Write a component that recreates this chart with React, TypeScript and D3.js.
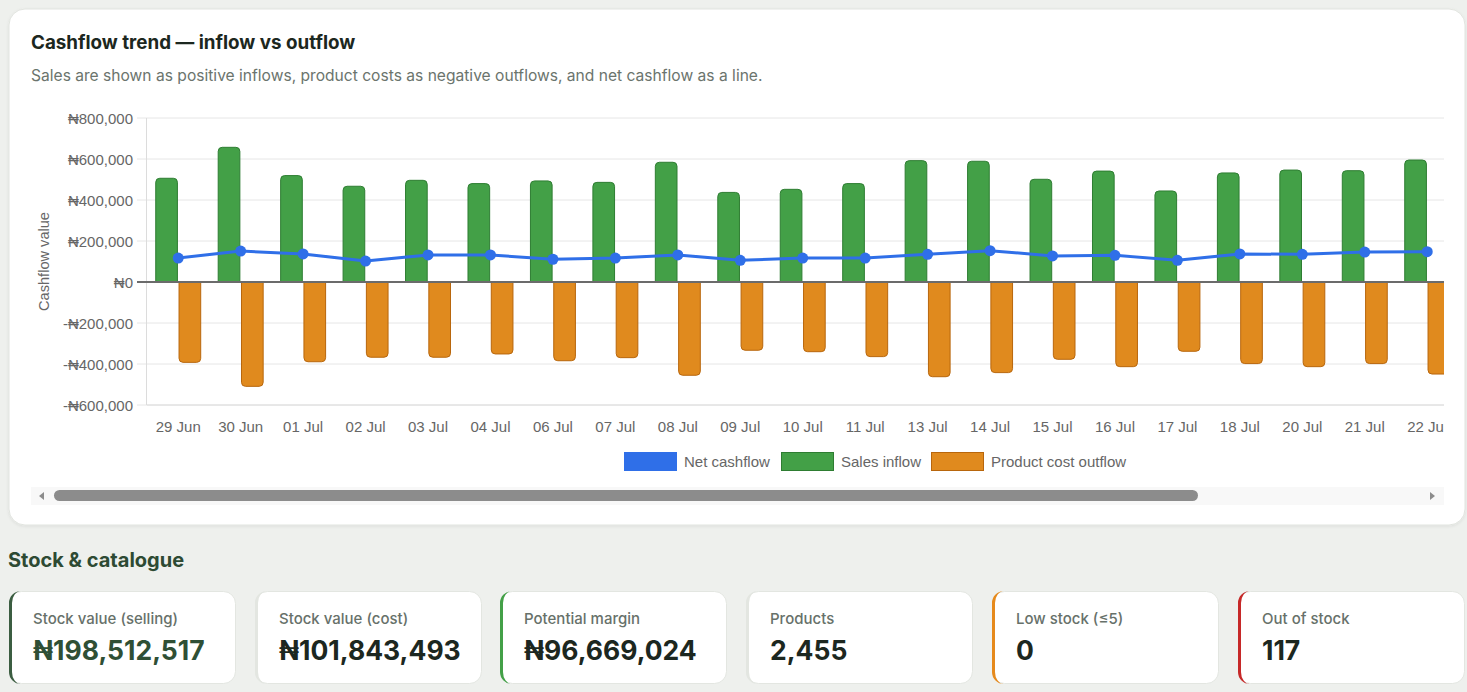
import * as d3 from "d3";
import React from "react";

const dates = ["29 Jun", "30 Jun", "01 Jul", "02 Jul", "03 Jul", "04 Jul", "06 Jul", "07 Jul", "08 Jul", "09 Jul", "10 Jul", "11 Jul", "13 Jul", "14 Jul", "15 Jul", "16 Jul", "17 Jul", "18 Jul", "20 Jul", "21 Jul", "22 Jul"];
const salesInflow = [506000, 657000, 519000, 467000, 496000, 480000, 493000, 486000, 584000, 437000, 452000, 480000, 592000, 589000, 501000, 541000, 444000, 532000, 546000, 543000, 595000];
const costOutflow = [-392000, -509000, -389000, -367000, -367000, -351000, -384000, -369000, -455000, -333000, -340000, -364000, -462000, -442000, -377000, -413000, -338000, -398000, -413000, -398000, -449000];
const netCashflow = [117000, 151000, 137000, 102000, 132000, 132000, 111000, 117000, 132000, 106000, 117000, 117000, 135000, 153000, 127000, 130000, 106000, 137000, 135000, 146000, 148000];
const yTicks = [800000, 600000, 400000, 200000, 0, -200000, -400000, -600000];

const legendItems = [
  { label: "Net cashflow", fill: "#2f6fe8", stroke: "#2f6fe8" },
  { label: "Sales inflow", fill: "#43a047", stroke: "#2e7d32" },
  { label: "Product cost outflow", fill: "#e08a1e", stroke: "#b8660c" },
];

const kpiLabels = ["Stock value (selling)", "Stock value (cost)", "Potential margin", "Products", "Low stock (≤5)", "Out of stock"];
const kpiValues = ["₦198,512,517", "₦101,843,493", "₦96,669,024", "2,455", "0", "117"];
const kpiAccents = ["#3b5d41", "#e3e6e1", "#43a047", "#e3e6e1", "#e68a1c", "#c62828"];

const W = 1467;
const H = 692;
const plotLeft = 147;
const plotRight = 1444;
const plotTop = 118;
const plotBottom = 405;
const step = 62.45;

const naira = d3.formatLocale({ decimal: ".", thousands: ",", grouping: [3], currency: ["₦", ""], minus: "-" }).format("$,");

const chartFont = "'Liberation Sans', Arial, Helvetica, sans-serif";
const uiFont = "Inter, 'Noto Sans', sans-serif";

// bar with rounded outer end only
function barPath(x: number, w: number, y0: number, y1: number, r: number) {
  const up = y1 < y0;
  const top = up ? y1 : y0;
  const bot = up ? y0 : y1;
  const rr = Math.min(r, Math.abs(bot - top) / 2, w / 2);
  if (up) {
    return `M${x},${bot}V${top + rr}Q${x},${top} ${x + rr},${top}H${x + w - rr}Q${x + w},${top} ${x + w},${top + rr}V${bot}Z`;
  }
  return `M${x},${top}V${bot - rr}Q${x},${bot} ${x + rr},${bot}H${x + w - rr}Q${x + w},${bot} ${x + w},${bot - rr}V${top}Z`;
}

export default function App() {
  const x = d3.scaleBand<string>().domain(dates).range([plotLeft, plotLeft + dates.length * step]);
  const xInner = d3
    .scaleBand<string>()
    .domain(["sales", "cost"])
    .range([x.bandwidth() * 0.14, x.bandwidth() * 0.86])
    .paddingInner(0.07);
  const y = d3.scaleLinear().domain([-600000, 800000]).range([plotBottom, plotTop]);

  const line = d3
    .line<number>()
    .x((_, i) => x(dates[i])! + x.bandwidth() / 2)
    .y((d) => y(d));

  const legendX = [624, 781, 931];
  const cardX = [9, 255, 500, 746, 992, 1238];
  const cardW = 227;

  return (
    <svg width={W} height={H} style={{ position: "absolute", left: 0, top: 0, display: "block" }}>
      <defs>
        <clipPath id="plotClip">
          <rect x={plotLeft - 12} y={plotTop - 12} width={plotRight - plotLeft + 12} height={plotBottom - plotTop + 40} />
        </clipPath>
        <clipPath id="labelClip">
          <rect x={0} y={plotBottom} width={plotRight} height={40} />
        </clipPath>
        <clipPath id="accentClip">
          <rect x={0} y={0} width={16} height={93} />
        </clipPath>
        <filter id="shadow" x="-5%" y="-5%" width="110%" height="115%">
          <feDropShadow dx="0" dy="1" stdDeviation="1.5" floodColor="#000" floodOpacity="0.08" />
        </filter>
      </defs>
      <rect width={W} height={H} fill="#eef0ed" />

      {/* chart card */}
      <rect x={9} y={9} width={1456} height={516} rx={16} fill="#fff" stroke="#e1e4df" filter="url(#shadow)" />
      <text x={31} y={49} fontFamily={uiFont} fontSize={18.8} fontWeight={700} fill="#1c2720">
        Cashflow trend — inflow vs outflow
      </text>
      <text x={31} y={81} fontFamily={uiFont} fontSize={15.6} fill="#6b746d">
        Sales are shown as positive inflows, product costs as negative outflows, and net cashflow as a line.
      </text>

      {/* y grid + labels */}
      <g fontFamily={chartFont} fontSize={15} fill="#666">
        {yTicks.map((t) => (
          <g key={t}>
            {t !== 0 && <line x1={plotLeft - 10} x2={plotRight} y1={y(t)} y2={y(t)} stroke="#e6e6e6" />}
            <text x={133} y={y(t)} textAnchor="end" dominantBaseline="central">
              {naira(t)}
            </text>
          </g>
        ))}
        <text transform={`translate(44,${(plotTop + plotBottom) / 2}) rotate(-90)`} textAnchor="middle" dominantBaseline="central" fontSize={14.6}>
          Cashflow value
        </text>
      </g>
      <line x1={plotLeft - 0.5} x2={plotLeft - 0.5} y1={plotTop} y2={plotBottom} stroke="#dcdcdc" />

      <g clipPath="url(#plotClip)">
        {dates.map((d, i) => (
          <g key={d}>
            <path
              d={barPath(x(d)! + xInner("sales")!, xInner.bandwidth(), y(0), y(salesInflow[i]), 4)}
              fill="#43a047"
              stroke="#2e7d32"
              strokeWidth={1}
            />
            <path
              d={barPath(x(d)! + xInner("cost")!, xInner.bandwidth(), y(0), y(costOutflow[i]), 4)}
              fill="#e08a1e"
              stroke="#b8660c"
              strokeWidth={1}
            />
          </g>
        ))}
        <line x1={plotLeft - 10} x2={plotRight} y1={y(0)} y2={y(0)} stroke="#6b6b6b" strokeWidth={2} />
        <line x1={plotLeft} x2={plotRight} y1={plotBottom} y2={plotBottom} stroke="#dcdcdc" />
        <path d={line(netCashflow)!} fill="none" stroke="#2f6fe8" strokeWidth={3} strokeLinejoin="round" />
        {netCashflow.map((v, i) => (
          <circle key={i} cx={x(dates[i])! + x.bandwidth() / 2} cy={y(v)} r={5.5} fill="#2f6fe8" />
        ))}
      </g>

      {/* x labels */}
      <g fontFamily={chartFont} fontSize={15} fill="#666" clipPath="url(#labelClip)">
        {dates.map((d) => (
          <text key={d} x={x(d)! + x.bandwidth() / 2} y={426} textAnchor="middle" dominantBaseline="central">
            {d}
          </text>
        ))}
      </g>

      {/* legend */}
      <g fontFamily={chartFont} fontSize={15} fill="#666">
        {legendItems.map((it, i) => (
          <g key={it.label} transform={`translate(${legendX[i]},452)`}>
            <rect x={0.5} y={0.5} width={52} height={18} fill={it.fill} stroke={it.stroke} />
            <text x={60} y={9.5} dominantBaseline="central">
              {it.label}
            </text>
          </g>
        ))}
      </g>

      {/* scrollbar */}
      <rect x={31} y={487} width={1413} height={18} fill="#f8f8f8" />
      <rect x={54} y={490} width={1144} height={11} rx={5.5} fill="#8c8c8c" />
      <path d="M44,492L39,496L44,500Z" fill="#8c8c8c" />
      <path d="M1430,492L1435,496L1430,500Z" fill="#8c8c8c" />

      {/* stock & catalogue */}
      <text x={8} y={567} fontFamily={uiFont} fontSize={20} fontWeight={700} fill="#2d4a33">
        Stock &amp; catalogue
      </text>
      {kpiLabels.map((lab, i) => (
        <g key={lab} transform={`translate(${cardX[i]},591)`}>
          <rect x={0.5} y={0.5} width={cardW - 1} height={92} rx={12} fill="#fff" stroke="#e3e6e1" />
          <g clipPath="url(#accentClip)">
            <path
              d={`M12,0A12,12 0 0 0 0,12V81A12,12 0 0 0 12,93A9,12 0 0 1 3,81V12A9,12 0 0 1 12,0Z`}
              fill={kpiAccents[i]}
            />
          </g>
          <text x={24} y={33} fontFamily={uiFont} fontSize={15} fontWeight={500} fill="#67716a">
            {lab}
          </text>
          <text x={24} y={69} fontFamily={uiFont} fontSize={26.5} fontWeight={700} fill={i === 0 ? "#2f4f35" : "#1c2720"}>
            {kpiValues[i]}
          </text>
        </g>
      ))}
    </svg>
  );
}
